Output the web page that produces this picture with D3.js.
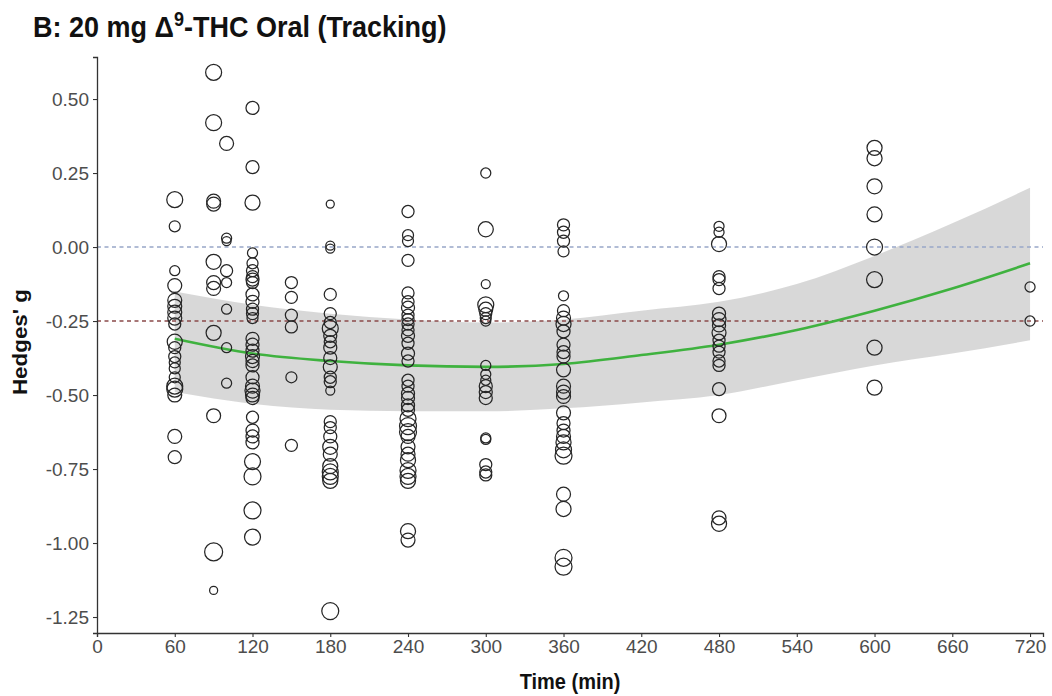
<!DOCTYPE html>
<html>
<head>
<meta charset="utf-8">
<script src="https://cdn.jsdelivr.net/npm/d3@7"></script>
<style>
  body { margin: 0; background: #fff; }
  text { font-family: "Liberation Sans", Arial, sans-serif; }
</style>
</head>
<body>
<div id="chart-area"></div>
<script>
// time points (min) of the studies
var times = [60, 90, 100, 120, 150, 180, 240, 300, 360, 480, 600, 720];

// Hedges' g per time point
var effects = [
  [0.16, 0.07, -0.08, -0.13, -0.18, -0.20, -0.22, -0.24, -0.26, -0.32, -0.34, -0.37, -0.39, -0.41, -0.44, -0.47, -0.48, -0.50, -0.64, -0.71],
  [0.59, 0.42, 0.155, 0.145, -0.05, -0.12, -0.14, -0.29, -0.57, -1.03, -1.16],
  [0.35, 0.03, 0.02, -0.08, -0.12, -0.21, -0.34, -0.46],
  [0.47, 0.27, 0.15, -0.02, -0.055, -0.08, -0.10, -0.11, -0.12, -0.16, -0.185, -0.21, -0.225, -0.24, -0.31, -0.33, -0.35, -0.37, -0.385, -0.40, -0.44, -0.47, -0.485, -0.50, -0.51, -0.575, -0.62, -0.64, -0.66, -0.725, -0.775, -0.89, -0.98],
  [-0.12, -0.17, -0.23, -0.27, -0.44, -0.67],
  [0.145, 0.005, -0.005, -0.16, -0.225, -0.255, -0.275, -0.30, -0.32, -0.34, -0.375, -0.405, -0.44, -0.455, -0.485, -0.59, -0.61, -0.64, -0.675, -0.70, -0.74, -0.76, -0.775, -0.79, -1.23],
  [0.12, 0.04, 0.02, -0.045, -0.155, -0.185, -0.205, -0.23, -0.245, -0.26, -0.28, -0.30, -0.325, -0.36, -0.385, -0.45, -0.47, -0.495, -0.51, -0.535, -0.55, -0.58, -0.605, -0.625, -0.64, -0.675, -0.70, -0.72, -0.755, -0.775, -0.79, -0.96, -0.99],
  [0.25, 0.06, -0.125, -0.195, -0.21, -0.225, -0.24, -0.25, -0.40, -0.43, -0.45, -0.47, -0.49, -0.51, -0.645, -0.65, -0.735, -0.76, -0.77],
  [0.075, 0.05, 0.02, -0.015, -0.165, -0.215, -0.24, -0.26, -0.285, -0.33, -0.355, -0.37, -0.415, -0.47, -0.49, -0.505, -0.56, -0.595, -0.62, -0.64, -0.66, -0.685, -0.705, -0.835, -0.885, -1.05, -1.08],
  [0.07, 0.05, 0.01, -0.10, -0.11, -0.14, -0.225, -0.245, -0.265, -0.29, -0.315, -0.335, -0.355, -0.385, -0.40, -0.48, -0.57, -0.915, -0.935],
  [0.335, 0.30, 0.205, 0.11, 0.0, -0.11, -0.34, -0.475],
  [-0.135, -0.25]
];

// study weights (point size)
var weights = [
  [63, 30, 25, 48, 48, 48, 48, 48, 36, 56, 36, 36, 30, 30, 30, 63, 63, 48, 48, 42],
  [63, 63, 48, 48, 56, 48, 48, 56, 48, 80, 16],
  [48, 25, 20, 36, 25, 25, 25, 25],
  [42, 42, 56, 25, 30, 36, 36, 42, 36, 42, 42, 36, 36, 30, 42, 42, 42, 48, 42, 42, 42, 48, 56, 48, 42, 36, 42, 42, 42, 63, 71, 71, 63],
  [36, 36, 36, 36, 30, 36],
  [16, 20, 20, 36, 36, 36, 63, 42, 36, 42, 42, 48, 36, 36, 20, 36, 36, 42, 56, 48, 56, 63, 63, 56, 71],
  [36, 30, 30, 36, 36, 36, 42, 36, 36, 36, 36, 42, 36, 42, 36, 36, 36, 42, 42, 42, 42, 63, 71, 71, 48, 48, 48, 56, 63, 63, 56, 56, 48],
  [25, 56, 20, 63, 48, 36, 30, 25, 25, 25, 25, 42, 42, 42, 25, 25, 36, 36, 36],
  [36, 36, 36, 30, 25, 36, 48, 56, 42, 42, 42, 42, 48, 48, 48, 48, 48, 42, 42, 48, 56, 63, 71, 48, 56, 71, 71],
  [25, 25, 56, 36, 36, 36, 42, 48, 42, 48, 36, 36, 36, 36, 36, 42, 48, 48, 56],
  [56, 56, 56, 56, 63, 63, 56, 56],
  [25, 25]
];

// meta-regression fit and confidence band
var fitTimes = [60, 120, 180, 240, 300, 360, 420, 480, 540, 600, 660, 720];
var fitG     = [-0.31, -0.36, -0.385, -0.40, -0.405, -0.395, -0.365, -0.33, -0.28, -0.215, -0.14, -0.055];
var ciUpper  = [-0.15, -0.195, -0.225, -0.245, -0.255, -0.245, -0.215, -0.185, -0.125, -0.03, 0.08, 0.20];
var ciLower  = [-0.49, -0.53, -0.55, -0.555, -0.555, -0.545, -0.525, -0.50, -0.45, -0.40, -0.36, -0.315];

// reference lines and ticks
var refZero = 0, refSmall = -0.25;
var xTicks = [0, 60, 120, 180, 240, 300, 360, 420, 480, 540, 600, 660, 720];
var yTicks = [0.5, 0.25, 0, -0.25, -0.5, -0.75, -1, -1.25];

var margin = {top: 57, right: 9, bottom: 63, left: 97},
  width = 1052 - margin.left - margin.right,
  height = 696 - margin.top - margin.bottom;

var root = d3.select("#chart-area")
  .append("svg")
  .attr("width", 1052)
  .attr("height", 696);

var svg = root.append("g")
  .attr("transform", "translate(" + margin.left + "," + margin.top + ")");

var x = d3.scaleLinear().domain([0, 730]).range([0, width]);
var y = d3.scaleLinear().domain([-1.304, 0.642]).range([height, 0]);
var r = d3.scaleSqrt().domain([0, 80]).range([0, 9]);

// build points
var points = [];
times.forEach(function(t, i) {
  effects[i].forEach(function(g, j) {
    points.push({t: t, g: g, w: weights[i][j]});
  });
});
var fit = fitTimes.map(function(t, i) {
  return {t: t, g: fitG[i], lo: ciLower[i], hi: ciUpper[i]};
});

// confidence band
svg.append("path")
  .datum(fit)
  .attr("fill", "#999999")
  .attr("fill-opacity", 0.38)
  .attr("d", d3.area()
    .curve(d3.curveMonotoneX)
    .x(function(d) { return x(d.t); })
    .y0(function(d) { return y(d.lo); })
    .y1(function(d) { return y(d.hi); }));

// dashed reference lines
svg.append("line")
  .attr("x1", 0).attr("x2", width)
  .attr("y1", y(refZero)).attr("y2", y(refZero))
  .attr("stroke", "#98a6c8")
  .attr("stroke-width", 1.4)
  .attr("stroke-dasharray", "4,3.5");
svg.append("line")
  .attr("x1", 0).attr("x2", width)
  .attr("y1", y(refSmall)).attr("y2", y(refSmall))
  .attr("stroke", "#8a4a4a")
  .attr("stroke-width", 1.4)
  .attr("stroke-dasharray", "4,3.5");

// fitted line
svg.append("path")
  .datum(fit)
  .attr("fill", "none")
  .attr("stroke", "#3fb23f")
  .attr("stroke-width", 2.6)
  .attr("d", d3.line()
    .curve(d3.curveMonotoneX)
    .x(function(d) { return x(d.t); })
    .y(function(d) { return y(d.g); }));

// study points
svg.selectAll("circle")
  .data(points)
  .enter()
  .append("circle")
  .attr("cx", function(d) { return x(d.t); })
  .attr("cy", function(d) { return y(d.g); })
  .attr("r", function(d) { return r(d.w); })
  .attr("fill", "none")
  .attr("stroke", "#262626")
  .attr("stroke-width", 1.25);

// axes
var xAxis = svg.append("g")
  .attr("transform", "translate(0," + height + ")")
  .call(d3.axisBottom(x).tickValues(xTicks).tickSize(4).tickPadding(3).tickFormat(d3.format("d")));
var yAxis = svg.append("g")
  .call(d3.axisLeft(y).tickValues(yTicks).tickSize(4).tickPadding(4)
    .tickFormat(function(d) { return d.toFixed(2); }));

[xAxis, yAxis].forEach(function(a) {
  a.select(".domain").attr("stroke", "#333").attr("stroke-width", 1.3);
  a.selectAll(".tick line").attr("stroke", "#333").attr("stroke-width", 1.1);
  a.selectAll(".tick text")
    .attr("fill", "#4d4d4d")
    .style("font-size", "19px")
    .style("font-family", "'Liberation Sans', Arial, sans-serif");
});

// title (slightly tall, like the source image)
var title = root.append("text")
  .attr("transform", "translate(33,37) scale(1,1.1)")
  .style("font-size", "27px")
  .style("font-weight", "bold")
  .attr("fill", "#111");
title.append("tspan").text("B: 20 mg \u0394");
title.append("tspan").attr("dy", -10).style("font-size", "18px").text("9");
title.append("tspan").attr("dy", 10).text("-THC Oral (Tracking)");

// axis labels
root.append("text")
  .attr("transform", "translate(" + (margin.left + width / 2) + ",689) scale(1,1.08)")
  .attr("text-anchor", "middle")
  .style("font-size", "20px")
  .style("font-weight", "bold")
  .attr("fill", "#111")
  .text("Time (min)");

root.append("text")
  .attr("transform", "translate(27,342) rotate(-90) scale(1.12,1)")
  .attr("text-anchor", "middle")
  .style("font-size", "20px")
  .style("font-weight", "bold")
  .attr("fill", "#111")
  .text("Hedges' g");
</script>
</body>
</html>
